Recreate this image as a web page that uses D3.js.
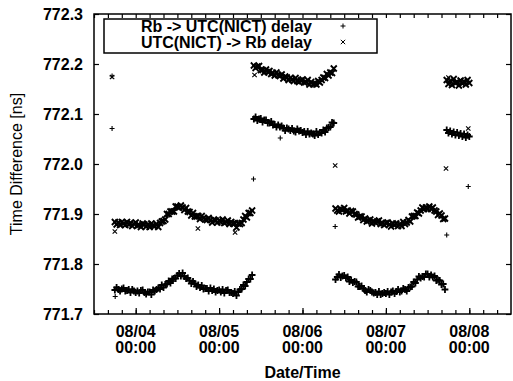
<!DOCTYPE html>
<html>
<head>
<meta charset="utf-8">
<script src="https://cdn.jsdelivr.net/npm/d3@7"></script>
<style>
body { margin: 0; background: #fff; }
text { font-family: "Liberation Sans", Arial, sans-serif; fill: #000; }
</style>
</head>
<body>
<script>
var w = 513;
var h = 381;

var seriesNames = ["Rb -> UTC(NICT) delay", "UTC(NICT) -> Rb delay"];
var yTicks = [771.7, 771.8, 771.9, 772.0, 772.1, 772.2, 772.3];
var xTicks = ["08/04 00:00", "08/05 00:00", "08/06 00:00", "08/07 00:00", "08/08 00:00"];
var xDomain = ["08/03 12:00", "08/08 12:00"];

// each run of samples starts here, one sample every 30 min
var segStart = ["08/03 18:00", "08/05 10:00", "08/06 09:30", "08/07 17:30"];
var stepMin = 30;

// Rb -> UTC(NICT) delay  (+)
var plus1 = [771.748, 771.753, 771.749, 771.746, 771.750, 771.752, 771.746, 771.747, 771.749, 771.743,
  771.749, 771.746, 771.743, 771.746, 771.742, 771.747, 771.748, 771.743, 771.740, 771.744,
  771.744, 771.739, 771.748, 771.746, 771.749, 771.752, 771.750, 771.758, 771.753, 771.759,
  771.760, 771.766, 771.762, 771.770, 771.771, 771.771, 771.777, 771.781, 771.776, 771.782,
  771.775, 771.771, 771.772, 771.767, 771.761, 771.765, 771.761, 771.755, 771.758, 771.753,
  771.757, 771.750, 771.751, 771.751, 771.746, 771.752, 771.747, 771.750, 771.744, 771.747,
  771.748, 771.744, 771.749, 771.742, 771.747, 771.748, 771.743, 771.743, 771.741, 771.745,
  771.737, 771.744, 771.749, 771.750, 771.758, 771.756, 771.764, 771.770, 771.770, 771.778];
var plus2 = [772.090, 772.094, 772.087, 772.090, 772.091, 772.084, 772.088, 772.088, 772.082, 772.082,
  772.085, 772.078, 772.079, 772.074, 772.078, 772.074, 772.076, 772.072, 772.067, 772.072,
  772.070, 772.067, 772.071, 772.066, 772.064, 772.070, 772.066, 772.067, 772.063, 772.065,
  772.059, 772.065, 772.060, 772.062, 772.060, 772.057, 772.065, 772.059, 772.063, 772.062,
  772.068, 772.064, 772.072, 772.073, 772.074, 772.083, 772.082];
var plus3 = [771.769, 771.774, 771.779, 771.773, 771.776, 771.777, 771.772, 771.774,
  771.765, 771.768, 771.763, 771.765, 771.764, 771.755, 771.755, 771.756,
  771.751, 771.747, 771.744, 771.749, 771.747, 771.744, 771.742, 771.743,
  771.739, 771.745, 771.739, 771.741, 771.743, 771.741, 771.745, 771.739,
  771.744, 771.746, 771.741, 771.745, 771.749, 771.744, 771.746, 771.751,
  771.749, 771.746, 771.753, 771.754, 771.755, 771.764, 771.762, 771.769,
  771.775, 771.772, 771.775, 771.774, 771.780, 771.780, 771.774, 771.778,
  771.774, 771.776, 771.767, 771.768, 771.767, 771.759, 771.760, 771.749];
var plus4 = [772.068, 772.062, 772.066, 772.060, 772.064, 772.058, 772.063, 772.057, 772.061, 772.055,
  772.060, 772.053, 772.058, 772.055];
var plusOdd = [["08/03 17:12", 772.176], ["08/03 17:12", 772.071], ["08/03 18:06", 771.735],
  ["08/05 09:54", 771.970], ["08/05 17:36", 772.052], ["08/06 09:24", 771.875],
  ["08/07 17:30", 771.858], ["08/07 23:42", 771.955]];

// UTC(NICT) -> Rb delay  (x)
var cross1 = [771.884, 771.879, 771.883, 771.878, 771.884, 771.881, 771.878, 771.884, 771.879, 771.882,
  771.876, 771.880, 771.883, 771.877, 771.878, 771.874, 771.881, 771.879, 771.875, 771.879,
  771.874, 771.881, 771.877, 771.876, 771.880, 771.874, 771.882, 771.885, 771.886, 771.889,
  771.900, 771.900, 771.905, 771.905, 771.905, 771.915, 771.915, 771.913, 771.917, 771.913,
  771.908, 771.912, 771.905, 771.904, 771.897, 771.902, 771.895, 771.895, 771.896, 771.890,
  771.896, 771.892, 771.889, 771.888, 771.892, 771.888, 771.883, 771.889, 771.887, 771.883,
  771.887, 771.884, 771.889, 771.882, 771.884, 771.887, 771.880, 771.884, 771.881, 771.882,
  771.873, 771.881, 771.880, 771.882, 771.889, 771.896, 771.893, 771.902, 771.902, 771.907];
var cross2 = [772.197, 772.192, 772.195, 772.196, 772.188, 772.188, 772.183, 772.189, 772.184, 772.186,
  772.180, 772.182, 772.177, 772.183, 772.178, 772.176, 772.179, 772.171, 772.175, 772.173,
  772.168, 772.172, 772.169, 772.166, 772.172, 772.166, 772.164, 772.167, 772.169, 772.163,
  772.164, 772.168, 772.159, 772.164, 772.160, 772.161, 772.159, 772.166, 772.163, 772.168,
  772.173, 772.172, 772.180, 772.177, 772.183, 772.182, 772.191];
var cross3 = [771.911, 771.907, 771.905, 771.910, 771.908, 771.912, 771.905, 771.907,
  771.901, 771.906, 771.905, 771.900, 771.899, 771.893, 771.895, 771.895,
  771.888, 771.891, 771.885, 771.887, 771.889, 771.881, 771.885, 771.883,
  771.885, 771.887, 771.880, 771.882, 771.878, 771.882, 771.883, 771.879,
  771.875, 771.881, 771.878, 771.881, 771.876, 771.880, 771.876, 771.884,
  771.880, 771.883, 771.888, 771.885, 771.895, 771.896, 771.896, 771.903,
  771.901, 771.907, 771.913, 771.910, 771.913, 771.910, 771.915, 771.910,
  771.913, 771.907, 771.905, 771.898, 771.901, 771.897, 771.890, 771.891];
var cross4 = [772.168, 772.160, 772.166, 772.158, 772.170, 772.162, 772.164, 772.157, 772.167, 772.161,
  772.165, 772.159, 772.168, 772.162];
var crossOdd = [["08/03 17:12", 772.174], ["08/03 18:00", 771.865], ["08/04 17:54", 771.871],
  ["08/05 04:36", 771.863], ["08/05 10:12", 772.178], ["08/06 09:24", 771.997],
  ["08/07 17:18", 771.991], ["08/07 18:00", 772.173], ["08/07 23:18", 772.166],
  ["08/07 23:42", 772.071]];

var parseTime = d3.timeParse("%m/%d %H:%M");

function toPoints(runs, odd) {
  var pts = [];
  runs.forEach(function(vals, k) {
    var t0 = parseTime(segStart[k]);
    vals.forEach(function(v, i) {
      pts.push([d3.timeMinute.offset(t0, i * stepMin), v, 1]);
    });
  });
  odd.forEach(function(d) { pts.push([parseTime(d[0]), d[1], 0]); });
  return pts;
}

var plusPts = toPoints([plus1, plus2, plus3, plus4], plusOdd);
var crossPts = toPoints([cross1, cross2, cross3, cross4], crossOdd);

var padL = 94, padR = 511, padT = 14, padB = 314;

var x = d3.scaleTime()
  .domain(xDomain.map(parseTime))
  .range([padL, padR]);

var y = d3.scaleLinear()
  .domain([771.7, 772.3])
  .range([padB, padT]);

var svg = d3.select("body")
  .append("svg")
  .attr("width", w)
  .attr("height", h);

function plusPath(s) { return "M" + (-s) + ",0H" + s + "M0," + (-s) + "V" + s; }
function crossPath(s) { return "M" + (-s) + "," + (-s) + "L" + s + "," + s + "M" + (-s) + "," + s + "L" + s + "," + (-s); }

// ticks (inward, mirrored)
var hours = d3.timeHour.every(4).range(x.domain()[0], x.domain()[1]);

svg.append("g")
  .attr("transform", "translate(0," + padB + ")")
  .call(d3.axisBottom(x).tickValues(hours).tickSize(-4).tickFormat(""));
svg.append("g")
  .attr("transform", "translate(0," + padT + ")")
  .call(d3.axisTop(x).tickValues(hours).tickSize(-4).tickFormat(""));
svg.append("g")
  .attr("transform", "translate(0," + padB + ")")
  .call(d3.axisBottom(x).tickValues(xTicks.map(parseTime)).tickSize(-6).tickFormat(""));

svg.append("g")
  .attr("class", "y axis")
  .attr("transform", "translate(" + padL + ",0)")
  .call(d3.axisLeft(y).tickValues(yTicks).tickSize(-5).tickPadding(11).tickFormat(d3.format(".1f")));
svg.append("g")
  .attr("transform", "translate(" + padR + ",0)")
  .call(d3.axisRight(y).tickValues(yTicks).tickSize(-5).tickFormat(""));

svg.selectAll(".domain").remove();
svg.selectAll(".tick line").attr("stroke", "#000").attr("stroke-width", 1.2);
svg.selectAll(".y.axis text")
  .style("font-size", "16px")
  .style("font-weight", "bold")
  .style("font-family", "'Liberation Sans', Arial, sans-serif")
  .attr("fill", "#000");

// two-line date labels
var lab = svg.append("g").selectAll("text")
  .data(xTicks)
  .enter()
  .append("text")
  .attr("text-anchor", "middle")
  .style("font-size", "16px")
  .style("font-weight", "bold");
lab.append("tspan")
  .attr("x", function(d) { return x(parseTime(d)); })
  .attr("y", 337)
  .text(function(d) { return d.split(" ")[0]; });
lab.append("tspan")
  .attr("x", function(d) { return x(parseTime(d)); })
  .attr("y", 353)
  .text(function(d) { return d.split(" ")[1]; });

// frame
svg.append("rect")
  .attr("x", padL)
  .attr("y", padT)
  .attr("width", padR - padL)
  .attr("height", padB - padT)
  .attr("fill", "none")
  .attr("stroke", "#000")
  .attr("stroke-width", 1.5);

// points: runs drawn a bit heavier, as in the scanned plot
svg.append("g").selectAll("path")
  .data(crossPts)
  .enter()
  .append("path")
  .attr("transform", function(d) { return "translate(" + x(d[0]) + "," + y(d[1]) + ")"; })
  .attr("d", function(d) { return crossPath(d[2] ? 3 : 2.2); })
  .attr("stroke", "#000")
  .attr("stroke-width", function(d) { return d[2] ? 1.8 : 1.1; })
  .attr("fill", "none");

svg.append("g").selectAll("path")
  .data(plusPts)
  .enter()
  .append("path")
  .attr("transform", function(d) { return "translate(" + x(d[0]) + "," + y(d[1]) + ")"; })
  .attr("d", function(d) { return plusPath(d[2] ? 3.4 : 2.5); })
  .attr("stroke", "#000")
  .attr("stroke-width", function(d) { return d[2] ? 1.8 : 1.1; })
  .attr("fill", "none");

// legend
svg.append("rect")
  .attr("x", 104)
  .attr("y", 19)
  .attr("width", 273)
  .attr("height", 34)
  .attr("fill", "#fff")
  .attr("stroke", "#000")
  .attr("stroke-width", 1.5);

var leg = svg.append("g").selectAll("g")
  .data(seriesNames)
  .enter()
  .append("g");
leg.append("text")
  .attr("x", 312)
  .attr("y", function(d, i) { return 32 + i * 16; })
  .attr("text-anchor", "end")
  .style("font-size", "16px")
  .style("font-weight", "bold")
  .text(function(d) { return d; });
leg.append("path")
  .attr("transform", function(d, i) { return "translate(343," + (26 + i * 16) + ")"; })
  .attr("d", function(d, i) { return i == 0 ? plusPath(2.5) : crossPath(2.2); })
  .attr("stroke", "#000")
  .attr("stroke-width", 1);

// axis titles
svg.append("text")
  .attr("transform", "translate(22," + ((padT + padB) / 2) + ") rotate(-90)")
  .attr("text-anchor", "middle")
  .style("font-size", "16px")
  .text("Time Difference [ns]");

svg.append("text")
  .attr("x", (padL + padR) / 2)
  .attr("y", 378)
  .attr("text-anchor", "middle")
  .style("font-size", "16px")
  .style("font-weight", "bold")
  .text("Date/Time");
</script>
</body>
</html>
